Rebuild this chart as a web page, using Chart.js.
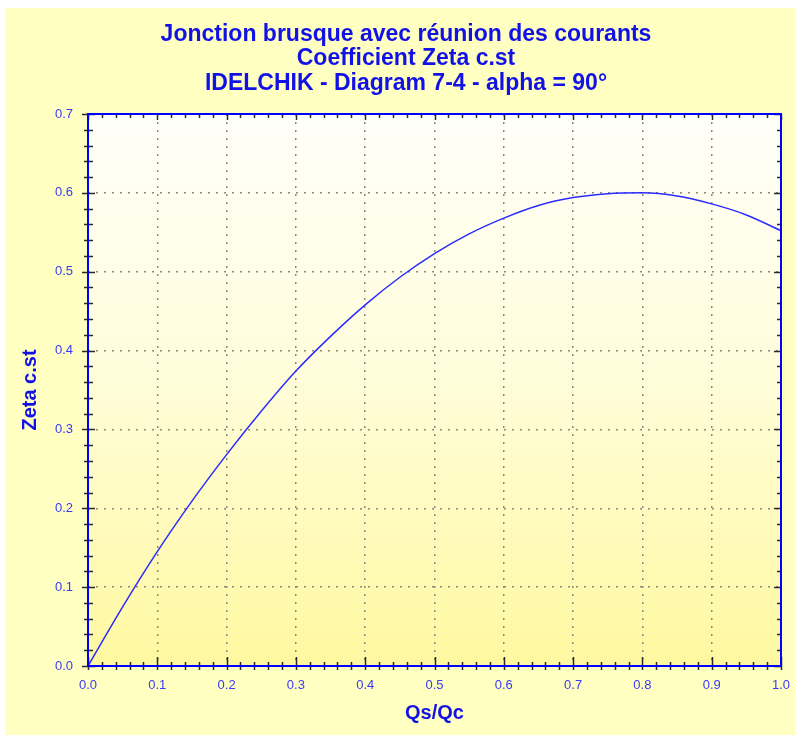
<!DOCTYPE html>
<html><head><meta charset="utf-8">
<script src="https://cdn.jsdelivr.net/npm/chart.js@4/dist/chart.umd.min.js"></script>
<style>html,body{margin:0;padding:0;background:#fff;overflow:hidden}canvas{display:block}</style>
</head><body>
<canvas id="c" width="795" height="735"></canvas>
<script>
// ---- data ----
const titleLines = ['Jonction brusque avec réunion des courants', 'Coefficient Zeta c.st', 'IDELCHIK - Diagram 7-4 - alpha = 90°'];
const xAxisTitle = 'Qs/Qc';
const yAxisTitle = 'Zeta c.st';
const qsQc    = [0, 0.05, 0.10, 0.15, 0.20, 0.25, 0.30, 0.35, 0.40, 0.45, 0.50, 0.55, 0.60, 0.65, 0.70, 0.75, 0.80, 0.85, 0.90, 0.95, 1.00];
const zetaCst = [0, 0.075, 0.145, 0.209, 0.268, 0.323, 0.374, 0.418, 0.458, 0.493, 0.523, 0.548, 0.568, 0.584, 0.594, 0.599, 0.600, 0.596, 0.586, 0.572, 0.552];
const xRange = [0, 1.0];
const yRange = [0, 0.7];
const majorStep = 0.1;
const minorStep = 0.02;

const points = qsQc.map((q, i) => ({x: q, y: zetaCst[i]}));

const decor = {
  id: 'decor',
  beforeDraw(chart) {
    const {ctx, chartArea: a} = chart;
    ctx.save();
    ctx.fillStyle = '#ffffff';
    ctx.fillRect(0, 0, chart.width, chart.height);
    ctx.fillStyle = '#ffffc2';
    ctx.fillRect(5, 8, chart.width - 5, chart.height - 8);
    const g = ctx.createLinearGradient(0, a.top, 0, a.bottom);
    g.addColorStop(0, '#fffffa');
    g.addColorStop(0.5, '#fffdd8');
    g.addColorStop(1, '#fff8a0');
    ctx.fillStyle = g;
    ctx.fillRect(a.left, a.top, a.right - a.left, a.bottom - a.top);
    ctx.restore();
  },
  afterDraw(chart) {
    const {ctx, chartArea: a, scales: {x, y}} = chart;
    ctx.save();
    ctx.strokeStyle = '#2a2a2a';
    ctx.lineWidth = 1.5;
    ctx.beginPath();
    const nX = Math.round((xRange[1] - xRange[0]) / minorStep);
    for (let i = 0; i <= nX; i++) {
      const v = xRange[0] + i * minorStep;
      const px = Math.round(x.getPixelForValue(v)) + 0.5;
      const major = i % 5 === 0;
      ctx.moveTo(px, a.bottom - (major ? 9 : 4));
      ctx.lineTo(px, a.bottom + 4);
      ctx.moveTo(px, a.top);
      ctx.lineTo(px, a.top + (major ? 6 : 4));
    }
    const nY = Math.round((yRange[1] - yRange[0]) / minorStep);
    for (let i = 0; i <= nY; i++) {
      const v = yRange[0] + i * minorStep;
      const py = Math.round(y.getPixelForValue(v)) + 0.5;
      const major = i % 5 === 0;
      ctx.moveTo(a.left - (major ? 6 : 4), py);
      ctx.lineTo(a.left + (major ? 7 : 5), py);
      ctx.moveTo(a.right, py);
      ctx.lineTo(a.right - (major ? 7 : 4), py);
    }
    ctx.stroke();
    ctx.strokeStyle = '#0000ff';
    ctx.lineWidth = 2;
    ctx.strokeRect(a.left, a.top, a.right - a.left, a.bottom - a.top);
    ctx.restore();
  }
};

new Chart(document.getElementById('c'), {
  type: 'line',
  data: {
    datasets: [{
      data: points,
      borderColor: '#2b2bff',
      borderWidth: 1.5,
      pointRadius: 0,
      fill: false,
      cubicInterpolationMode: 'monotone',
      tension: 0.4
    }]
  },
  options: {
    responsive: false,
    animation: false,
    layout: {padding: {left: 24, right: 7, top: 0, bottom: 0}},
    plugins: {
      legend: {display: false},
      tooltip: {enabled: false},
      title: {
        display: true,
        text: titleLines,
        color: '#1212e6',
        font: {family: 'Liberation Sans, Arial, sans-serif', size: 23, weight: 'bold', lineHeight: '24.5px'},
        padding: {top: 22, bottom: 18.5}
      }
    },
    scales: {
      x: {
        type: 'linear',
        min: xRange[0], max: xRange[1],
        border: {display: false, dash: [2, 6]},
        grid: {color: '#8a8a7a', lineWidth: 1.5, drawTicks: false},
        ticks: {
          stepSize: majorStep, padding: 12, color: '#3a3af5',
          font: {family: 'Liberation Sans, Arial, sans-serif', size: 13},
          callback: v => Number(v).toFixed(1)
        },
        title: {
          display: true, text: xAxisTitle, color: '#1212e6',
          font: {family: 'Liberation Sans, Arial, sans-serif', size: 20, weight: 'bold'},
          padding: {top: 0, bottom: 10}
        },
        afterFit: s => { s.height = 69; s.paddingRight = 14; s.paddingLeft = 0; }
      },
      y: {
        type: 'linear',
        min: yRange[0], max: yRange[1],
        border: {display: false, dash: [2, 6]},
        grid: {color: '#8a8a7a', lineWidth: 1.5, drawTicks: false},
        ticks: {
          stepSize: majorStep, padding: 15, color: '#3a3af5',
          font: {family: 'Liberation Sans, Arial, sans-serif', size: 13},
          callback: v => Number(v).toFixed(1)
        },
        title: {
          display: true, text: yAxisTitle, color: '#1212e6',
          font: {family: 'Liberation Sans, Arial, sans-serif', size: 20, weight: 'bold'},
          padding: {top: -6, bottom: 0}
        },
        afterFit: s => { s.width = 64; }
      }
    }
  },
  plugins: [decor]
});
</script>
</body></html>
